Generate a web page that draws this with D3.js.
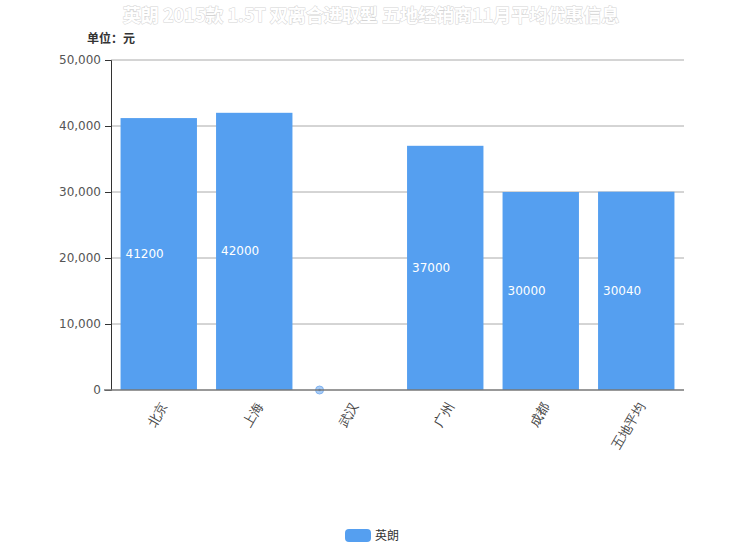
<!DOCTYPE html>
<html><head><meta charset="utf-8">
<script src="https://cdn.jsdelivr.net/npm/d3@7/dist/d3.min.js"></script>
<style>
body{margin:0;background:#fff;}
svg{font-family:"Noto Sans CJK SC","Noto Sans",sans-serif;}
</style></head>
<body><svg id="c" width="744" height="557"></svg>
<script>
const categories = ["北京","上海","武汉","广州","成都","五地平均"];
const values = [41200, 42000, null, 37000, 30000, 30040];
const yTicks = [0, 10000, 20000, 30000, 40000, 50000];
const seriesName = "英朗";
const titleText = "英朗 2015款 1.5T 双离合进取型 五地经销商11月平均优惠信息";
const unitText = "单位：元";

const svg = d3.select("#c");
const m = {l:111, r:684, t:60, b:390};
const color = "#559ff0";

const x = d3.scaleBand().domain(categories).range([m.l, m.r]).paddingInner(0.2).paddingOuter(0.1);
const y = d3.scaleLinear().domain([0, 50000]).range([m.b, m.t]);

// title
svg.append("text").attr("x", 371).attr("y", 22).attr("text-anchor","middle")
  .attr("font-size", 18).attr("font-weight","bold").attr("fill","#fff")
  .attr("stroke","#d4d4d4").attr("stroke-width",1).attr("paint-order","stroke")
  .text(titleText);

// unit
svg.append("text").attr("x", 87).attr("y", 43).attr("font-size", 12).attr("font-weight","bold")
  .attr("fill","#333").text(unitText);

// grid
svg.append("g").selectAll("line").data(yTicks.filter(d=>d>0)).join("line")
  .attr("x1", m.l).attr("x2", m.r).attr("y1", d=>y(d)).attr("y2", d=>y(d))
  .attr("stroke","#aaa").attr("stroke-width",1);

// y axis
const yAxis = svg.append("g").attr("transform", `translate(${m.l},0)`)
  .call(d3.axisLeft(y).tickValues(yTicks).tickFormat(d3.format(",")).tickSize(6).tickPadding(4));
yAxis.select(".domain").attr("stroke","#333");
yAxis.selectAll(".tick line").attr("stroke","#333");
yAxis.selectAll("text").attr("font-size", 12).attr("fill","#555").attr("font-family","DejaVu Sans, sans-serif");

// bars
const data = categories.map((c,i)=>({c, v: values[i]}));
svg.append("g").selectAll("rect").data(data.filter(d=>d.v!=null)).join("rect")
  .attr("x", d=>x(d.c)).attr("width", x.bandwidth())
  .attr("y", d=>y(d.v)).attr("height", d=>y(0)-y(d.v))
  .attr("fill", color);

// labels
svg.append("g").selectAll("text").data(data.filter(d=>d.v!=null)).join("text")
  .attr("x", d=>x(d.c)+5).attr("y", d=>(y(d.v)+y(0))/2+4)
  .attr("font-size", 12).attr("fill","#fff").attr("font-family","DejaVu Sans, sans-serif")
  .text(d=>d.v);

// null marker
data.filter(d=>d.v==null).forEach(d=>{
  svg.append("circle").attr("cx", x(d.c)+8).attr("cy", y(0)).attr("r", 4)
    .attr("fill","#a9cdf7").attr("stroke","#7fb2f0").attr("stroke-width",1);
  svg.append("circle").attr("cx", x(d.c)+8).attr("cy", y(0)).attr("r", 1.3).attr("fill","#4a90e2");
});

// x axis
const xAxis = svg.append("g").attr("transform", `translate(0,${m.b})`)
  .call(d3.axisBottom(x).tickSize(0).tickPadding(6));
xAxis.select(".domain").attr("stroke","#777").attr("stroke-width",1.5).attr("d", `M${m.l-7},0H${m.r}`);
xAxis.selectAll("text").attr("font-size", 13).attr("fill","#444")
  .attr("text-anchor","end").attr("dy", "0.35em")
  .attr("transform", "translate(0,10) rotate(-60)");

// legend
const lg = svg.append("g").attr("transform","translate(345,529)");
lg.append("rect").attr("width",26).attr("height",13).attr("rx",4).attr("fill",color);
lg.append("text").attr("x",30).attr("y",11).attr("font-size",12).attr("fill","#333").text(seriesName);
</script></body></html>
